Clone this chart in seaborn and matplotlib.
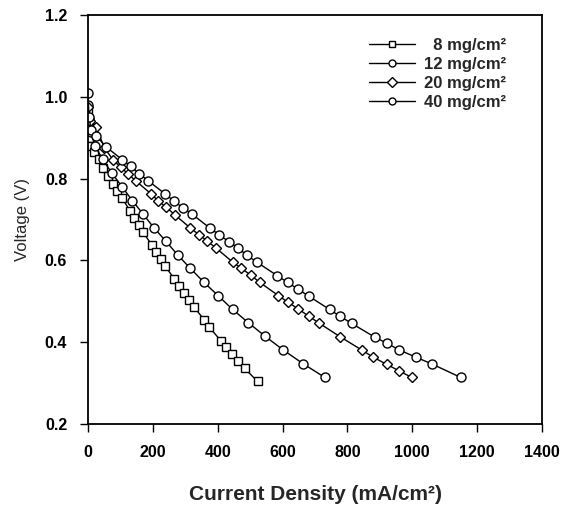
import matplotlib
matplotlib.use("Agg")
import matplotlib.pyplot as plt
import seaborn as sns
import pandas as pd

# ---- data ----
x_8 = [0, 3, 6, 10, 17, 33, 47, 62, 78, 90, 105, 130, 143, 157, 169, 197, 210, 224, 238,
       266, 282, 296, 312, 327, 359, 374, 409, 427, 445, 463, 483, 523]
v_8 = [0.97, 0.94, 0.90, 0.88, 0.866, 0.847, 0.826, 0.806, 0.788, 0.770, 0.752, 0.721, 0.703,
       0.687, 0.669, 0.638, 0.620, 0.603, 0.586, 0.555, 0.537, 0.520, 0.503, 0.486, 0.454,
       0.437, 0.404, 0.388, 0.371, 0.355, 0.336, 0.304]

x_12 = [0, 2, 8, 22, 45, 74, 105, 137, 170, 203, 240, 278, 315, 358, 401, 446, 494, 547,
        602, 664, 730]
v_12 = [0.98, 0.945, 0.913, 0.880, 0.847, 0.813, 0.780, 0.746, 0.713, 0.680, 0.647, 0.612,
        0.581, 0.546, 0.514, 0.480, 0.448, 0.414, 0.381, 0.347, 0.314]

x_20 = [0, 5, 25, 50, 78, 101, 124, 148, 194, 217, 241, 267, 316, 342, 368, 395, 446, 472,
        502, 530, 587, 616, 649, 680, 712, 778, 844, 880, 921, 959, 998]
v_20 = [0.975, 0.94, 0.926, 0.876, 0.845, 0.828, 0.811, 0.794, 0.763, 0.745, 0.730, 0.712,
        0.679, 0.663, 0.647, 0.630, 0.596, 0.581, 0.564, 0.546, 0.514, 0.498, 0.481, 0.464,
        0.447, 0.413, 0.381, 0.363, 0.346, 0.330, 0.314]

x_40 = [0, 3, 10, 25, 55, 106, 132, 158, 185, 237, 265, 292, 321, 376, 404, 434, 463, 491,
        522, 583, 616, 647, 680, 745, 778, 813, 885, 923, 960, 1012, 1060, 1149]
v_40 = [1.01, 0.95, 0.92, 0.905, 0.878, 0.846, 0.830, 0.812, 0.795, 0.763, 0.745, 0.729,
        0.713, 0.679, 0.663, 0.646, 0.630, 0.612, 0.595, 0.563, 0.546, 0.530, 0.513, 0.480,
        0.463, 0.446, 0.412, 0.397, 0.381, 0.363, 0.347, 0.314]

labels = ["  8 mg/cm²", "12 mg/cm²", "20 mg/cm²", "40 mg/cm²"]
x_ticks = [0, 200, 400, 600, 800, 1000, 1200, 1400]
y_ticks = [0.2, 0.4, 0.6, 0.8, 1.0, 1.2]

frames = []
for lab, xs, vs in zip(labels, [x_8, x_12, x_20, x_40], [v_8, v_12, v_20, v_40]):
    frames.append(pd.DataFrame({"j": xs, "v": vs, "load": lab}))
df = pd.concat(frames, ignore_index=True)

sns.set_style("ticks")
plt.rcParams["font.family"] = ["Liberation Sans", "DejaVu Sans"]

fig = plt.figure(figsize=(5.62, 5.09), dpi=100)
ax = fig.add_axes([0.1566, 0.167, 0.8078, 0.8035])

markers = {labels[0]: "s", labels[1]: "o", labels[2]: "D", labels[3]: "o"}
palette = {l: "black" for l in labels}
sns.lineplot(data=df, x="j", y="v", hue="load", style="load", markers=markers,
             dashes=False, palette=palette, sort=False, estimator=None, ax=ax,
             linewidth=1.0, markersize=6.5, markerfacecolor="white",
             markeredgecolor="black", markeredgewidth=1.0)

for line in ax.get_lines():
    if line.get_marker() == "D":
        line.set_markersize(5.0)
    elif line.get_marker() == "s":
        line.set_markersize(5.8)

ax.set_xlim(0, 1400)
ax.set_ylim(0.2, 1.2)
ax.set_xticks(x_ticks)
ax.set_yticks(y_ticks)
ax.set_xticklabels([str(t) for t in x_ticks], fontweight="bold", fontsize=11.5)
ax.set_yticklabels([f"{t:.1f}" for t in y_ticks], fontweight="bold", fontsize=11.5)
ax.tick_params(direction="out", length=6, width=1.0, pad=9, colors="black")
for s in ax.spines.values():
    s.set_visible(True)
    s.set_linewidth(1.3)
    s.set_color("black")

ax.set_xlabel("Current Density (mA/cm²)", fontsize=15, fontweight="bold", labelpad=18)
ax.set_ylabel("Voltage (V)", fontsize=12, labelpad=11)

handles, labs = ax.get_legend_handles_labels()
for h in handles:
    h.set_markersize(5.0)
leg = ax.legend(handles, labs, loc="upper right", bbox_to_anchor=(0.955, 0.98),
                frameon=False, prop={"weight": "bold", "size": 12},
                handlelength=2.8, handletextpad=0.55, labelspacing=0.24)

fig.savefig("out.png", dpi=100)
